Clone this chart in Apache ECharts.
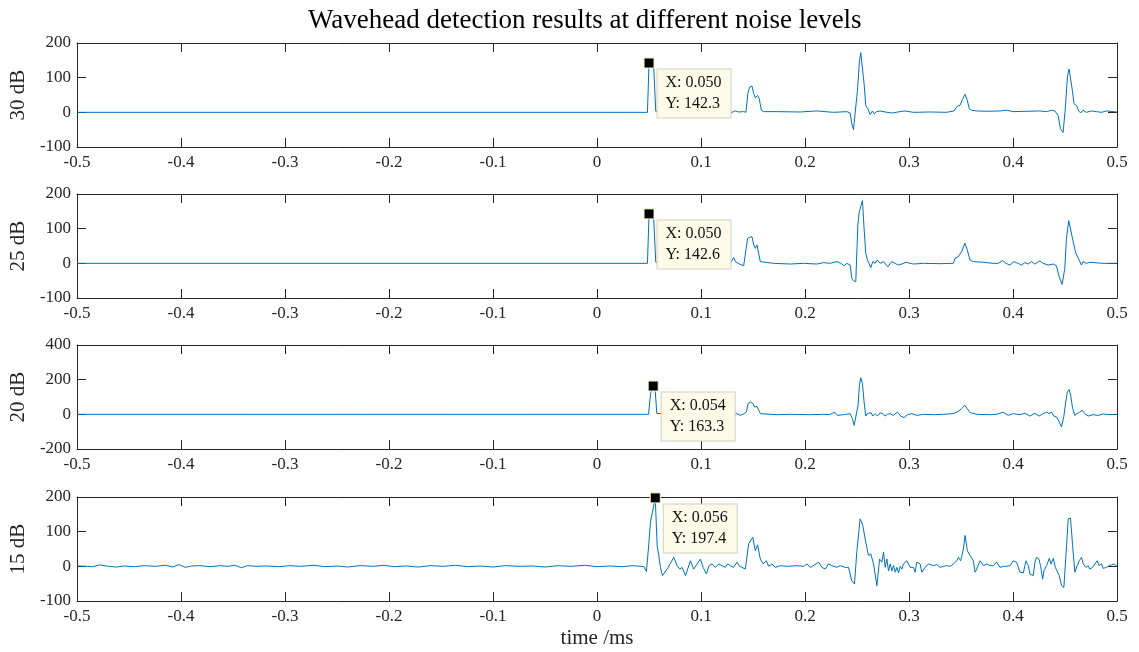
<!DOCTYPE html>
<html>
<head>
<meta charset="utf-8">
<script src="https://cdn.jsdelivr.net/npm/echarts@6/dist/echarts.min.js"></script>
<style>
html,body{margin:0;padding:0;background:#fff;}
#chart{width:1139px;height:652px;}
</style>
</head>
<body>
<div id="chart"></div>
<script>
// ---- data ----
var titleText = 'Wavehead detection results at different noise levels';
var xAxisName = 'time /ms';
var panelNames = ['30 dB', '25 dB', '20 dB', '15 dB'];
var yMins = [-100, -100, -200, -100];
var yMaxs = [200, 200, 400, 200];
var yIntervals = [100, 100, 200, 100];
var tipX = [0.050, 0.050, 0.054, 0.056];
var tipY = [142.3, 142.6, 163.3, 197.4];

var s30 = [
[-0.5,0],[0.0485,0],[0.0500,142.3],[0.0520,144],[0.0545,130],[0.0565,3],[0.058,0],
[0.1298,0],[0.1330,4],[0.1362,1],[0.1410,2],[0.1432,0],[0.1450,54],[0.1467,73],[0.1490,76],[0.1506,54],[0.1522,42],[0.1544,49],[0.1560,39],[0.1580,6],[0.1602,2],[0.1730,2],[0.1954,1],[0.2114,4],[0.2274,0],[0.2402,2],[0.2434,-2],[0.2450,-33],[0.2466,-50],[0.2485,-52],[0.2504,63],[0.2524,150],[0.2536,172],[0.2552,172],[0.2568,83],[0.2584,20],[0.2603,11],[0.2626,-6],[0.2648,4],[0.2664,-4],[0.2690,2],[0.2722,4],[0.2770,1],[0.2834,-2],[0.2914,2],[0.2962,4],[0.3042,0],[0.3202,1],[0.3362,0],[0.3432,4],[0.3464,17],[0.3490,20],[0.3512,36],[0.3538,52],[0.3560,35],[0.3579,11],[0.3602,6],[0.3650,4],[0.3746,3],[0.3874,4],[0.3938,6],[0.4002,2],[0.4130,3],[0.4258,4],[0.4322,2],[0.4370,6],[0.4402,4],[0.4434,-9],[0.4456,-47],[0.4482,-58],[0.4504,15],[0.4523,102],[0.4539,125],[0.4555,125],[0.4571,63],[0.4587,25],[0.4610,20],[0.4632,4],[0.4651,-2],[0.4674,6],[0.4706,0],[0.4754,4],[0.4802,2],[0.4850,0],[0.4898,4],[0.4962,2],[0.5,1]
];

var s25 = [
[-0.5,0],[0.0485,0],[0.0500,142.6],[0.0520,143],[0.0545,128],[0.0565,3],[0.058,0],
[0.1282,0],[0.1298,5],[0.1314,17],[0.1330,5],[0.1346,10],[0.1369,-2],[0.1388,2],[0.1410,-7],[0.1426,-5],[0.1448,72],[0.1468,75],[0.1490,77],[0.1506,55],[0.1522,43],[0.1538,53],[0.1554,51],[0.1570,5],[0.1586,2],[0.1698,0],[0.1858,-2],[0.1986,0],[0.2114,-2],[0.2178,2],[0.2242,0],[0.2306,5],[0.2344,0],[0.2376,-7],[0.2402,0],[0.2434,-5],[0.2450,-44],[0.2466,-50],[0.2488,-53],[0.2508,111],[0.2520,145],[0.2536,164],[0.2552,181],[0.2568,101],[0.2584,29],[0.2600,10],[0.2616,0],[0.2632,-13],[0.2652,5],[0.2674,0],[0.2696,10],[0.2722,0],[0.2754,5],[0.2796,-10],[0.2834,5],[0.2866,0],[0.2898,-5],[0.2930,-2],[0.2972,3],[0.2984,7],[0.3010,0],[0.3042,-2],[0.3138,0],[0.3298,-1],[0.3426,0],[0.3442,14],[0.3474,19],[0.3506,34],[0.3538,58],[0.3560,39],[0.3586,10],[0.3618,5],[0.3714,3],[0.3810,0],[0.3858,0],[0.3900,8],[0.3932,0],[0.3970,-5],[0.4008,5],[0.4050,0],[0.4082,-5],[0.4114,2],[0.4146,-2],[0.4178,5],[0.4210,-2],[0.4258,7],[0.4290,0],[0.4338,-5],[0.4386,-2],[0.4418,-7],[0.4444,-39],[0.4472,-61],[0.4498,-15],[0.4514,72],[0.4536,123],[0.4552,121],[0.4578,63],[0.4604,29],[0.4636,10],[0.4658,-5],[0.4674,5],[0.4706,0],[0.4738,3],[0.4866,0],[0.4994,0],[0.5,0]
];

var s20 = [
[-0.5,0],[0.0495,0],[0.0515,120],[0.0540,163.3],[0.0560,130],[0.0575,5],[0.059,0],
[0.1314,-2],[0.1346,4],[0.1378,-6],[0.1410,2],[0.1436,13],[0.1452,62],[0.1474,71],[0.1500,62],[0.1516,42],[0.1538,46],[0.1557,42],[0.1570,4],[0.1586,-2],[0.1730,-2],[0.1858,0],[0.2050,-2],[0.2178,0],[0.2236,-2],[0.2268,8],[0.2290,10],[0.2312,-6],[0.2370,-2],[0.2434,4],[0.2456,-25],[0.2472,-64],[0.2491,-73],[0.2510,52],[0.2523,168],[0.2536,212],[0.2552,178],[0.2568,71],[0.2584,-10],[0.2600,4],[0.2619,-6],[0.2635,10],[0.2651,-10],[0.2674,4],[0.2696,-10],[0.2722,8],[0.2748,4],[0.2770,-10],[0.2792,0],[0.2818,4],[0.2850,-6],[0.2888,13],[0.2920,-10],[0.2952,-19],[0.2984,-2],[0.3026,4],[0.3074,-6],[0.3138,0],[0.3234,-2],[0.3330,0],[0.3426,4],[0.3474,17],[0.3506,33],[0.3538,52],[0.3560,33],[0.3586,10],[0.3650,0],[0.3778,-2],[0.3842,0],[0.3906,12],[0.3954,-6],[0.4002,4],[0.4066,-2],[0.4114,6],[0.4162,-10],[0.4210,6],[0.4251,-10],[0.4290,4],[0.4322,13],[0.4347,4],[0.4370,13],[0.4392,-10],[0.4418,-15],[0.4444,-41],[0.4466,-73],[0.4488,-15],[0.4507,71],[0.4523,129],[0.4539,143],[0.4555,110],[0.4571,42],[0.4594,-6],[0.4616,4],[0.4642,13],[0.4668,23],[0.4690,4],[0.4722,-10],[0.4770,-2],[0.4818,-6],[0.4866,2],[0.4930,-2],[0.4994,0],[0.5,0]
];

var s15 = [
[-0.5,1],[-0.49,0],[-0.485,-1],[-0.478,4],[-0.47,0],[-0.462,-2],[-0.455,1],[-0.445,-1],[-0.435,2],[-0.425,0],[-0.415,3],[-0.408,-2],[-0.402,5],[-0.396,-3],[-0.39,1],[-0.382,2],[-0.372,-1],[-0.362,2],[-0.355,0],[-0.348,3],[-0.342,-4],[-0.336,2],[-0.328,0],[-0.318,1],[-0.305,-1],[-0.295,2],[-0.285,0],[-0.272,3],[-0.262,-1],[-0.25,1],[-0.24,-2],[-0.228,2],[-0.215,0],[-0.205,3],[-0.195,-1],[-0.183,1],[-0.172,-2],[-0.16,2],[-0.148,0],[-0.136,3],[-0.124,-1],[-0.112,1],[-0.1,-2],[-0.088,2],[-0.075,0],[-0.062,1],[-0.05,-2],[-0.038,2],[-0.025,0],[-0.012,3],[0,-1],[0.012,1],[0.024,-1],[0.035,2],[0.045,-1],
[0.0475,-15],[0.0498,65],[0.0514,128],[0.0530,123],[0.0546,176],[0.0560,197.4],[0.0578,60],[0.0594,31],[0.0610,-3],[0.0629,-27],[0.0645,-25],[0.0680,-5],[0.0738,26],[0.0770,2],[0.0796,-8],[0.0818,-3],[0.0850,-27],[0.0898,16],[0.0930,-8],[0.0962,7],[0.0994,21],[0.1020,-3],[0.1052,-22],[0.1077,2],[0.1106,7],[0.1138,-3],[0.1170,7],[0.1202,2],[0.1234,-3],[0.1256,7],[0.1282,2],[0.1314,-3],[0.1346,12],[0.1371,0],[0.1394,-3],[0.1426,-8],[0.1458,65],[0.1474,60],[0.1497,84],[0.1522,45],[0.1544,62],[0.1570,21],[0.1596,7],[0.1628,16],[0.1650,0],[0.1682,7],[0.1714,-3],[0.1762,2],[0.1826,0],[0.1922,2],[0.1986,0],[0.2018,7],[0.2050,-3],[0.2082,2],[0.2130,12],[0.2162,-3],[0.2194,-8],[0.2226,7],[0.2258,2],[0.2306,-3],[0.2338,2],[0.2386,-3],[0.2418,-3],[0.2450,-42],[0.2476,-51],[0.2498,42],[0.2530,137],[0.2556,118],[0.2578,79],[0.2610,31],[0.2632,36],[0.2659,7],[0.2691,-56],[0.2717,21],[0.2739,12],[0.2755,41],[0.2771,-3],[0.2787,21],[0.2803,-13],[0.2819,7],[0.2835,-13],[0.2851,2],[0.2867,-17],[0.2883,-3],[0.2899,-19],[0.2915,0],[0.2931,-8],[0.2947,7],[0.2963,2],[0.2979,16],[0.2995,21],[0.3011,-3],[0.3027,-8],[0.3043,-3],[0.3059,-17],[0.3075,12],[0.3107,7],[0.3123,-17],[0.3155,-3],[0.3187,7],[0.3203,12],[0.3235,2],[0.3267,5],[0.3299,-3],[0.3331,0],[0.3363,2],[0.3395,0],[0.3427,7],[0.3459,16],[0.3475,26],[0.3497,16],[0.3523,50],[0.3539,89],[0.3561,45],[0.3587,31],[0.3619,16],[0.3635,-17],[0.3651,-8],[0.3683,16],[0.3715,2],[0.3747,7],[0.3779,2],[0.3811,2],[0.3843,12],[0.3875,-3],[0.3907,0],[0.3939,0],[0.3971,2],[0.4003,16],[0.4035,12],[0.4067,-17],[0.4083,-13],[0.4099,-19],[0.4125,16],[0.4147,2],[0.4163,-22],[0.4195,-27],[0.4211,12],[0.4227,26],[0.4249,21],[0.4265,2],[0.4285,-37],[0.4297,-13],[0.4323,2],[0.4349,23],[0.4365,7],[0.4387,23],[0.4407,-3],[0.4426,2],[0.4445,-27],[0.4467,-56],[0.4489,-61],[0.4515,60],[0.4531,137],[0.4553,139],[0.4573,60],[0.4595,-17],[0.4617,2],[0.4637,16],[0.4659,26],[0.4675,7],[0.4701,-3],[0.4723,2],[0.4739,-8],[0.4765,-3],[0.4787,7],[0.4809,16],[0.4829,2],[0.4851,7],[0.4867,-6],[0.4899,-3],[0.4925,2],[0.4947,4],[0.4970,7],[0.5,0]
];

var seriesData = [s30, s25, s20, s15];

// ---- layout / style ----
var FONT = 'Liberation Serif, Times New Roman, serif';
var AX = '#262626';
var LINE = '#0072BD';
var gridTops = [43, 194, 345, 497];
var gridH = 104;

var grids = [], xAxes = [], yAxes = [], series = [];
for (var i = 0; i < 4; i++) {
  grids.push({left: 76, right: 22, top: gridTops[i], height: gridH});
  var common = {
    gridIndex: i, type: 'value', min: -0.5, max: 0.5, interval: 0.1,
    axisLine: {show: true, onZero: false, lineStyle: {color: AX, width: 1}},
    axisTick: {show: true, inside: true, length: 9, lineStyle: {color: AX, width: 1}},
    splitLine: {show: false}
  };
  xAxes.push(Object.assign({}, common, {
    position: 'bottom',
    name: i === 3 ? xAxisName : '',
    nameLocation: 'middle', nameGap: 27,
    nameTextStyle: {fontFamily: FONT, fontSize: 21, color: AX},
    axisLabel: {show: true, fontFamily: FONT, fontSize: 17, color: AX, margin: 7,
      formatter: function (v) { return String(Math.round(v * 10) / 10); }}
  }));
  xAxes.push(Object.assign({}, common, {position: 'top', axisLabel: {show: false}}));
  var ycommon = {
    gridIndex: i, type: 'value', min: yMins[i], max: yMaxs[i], interval: yIntervals[i],
    axisLine: {show: true, onZero: false, lineStyle: {color: AX, width: 1}},
    axisTick: {show: true, inside: true, length: 9, lineStyle: {color: AX, width: 1}},
    splitLine: {show: false}
  };
  yAxes.push(Object.assign({}, ycommon, {
    position: 'left',
    name: panelNames[i], nameLocation: 'middle', nameGap: 38, nameRotate: 90,
    nameTextStyle: {fontFamily: FONT, fontSize: 21, color: AX},
    axisLabel: {show: true, fontFamily: FONT, fontSize: 17, color: AX, margin: 6}
  }));
  yAxes.push(Object.assign({}, ycommon, {position: 'right', axisLabel: {show: false}}));

  series.push({
    type: 'line',
    xAxisIndex: 2 * i, yAxisIndex: 2 * i,
    data: seriesData[i],
    showSymbol: false, symbol: 'none',
    lineStyle: {color: LINE, width: 1},
    clip: true,
    markPoint: {
      symbol: 'rect', symbolSize: 10,
      itemStyle: {color: '#000', borderColor: '#f3f3c4', borderWidth: 1},
      label: {
        show: true, position: [14, 12],
        formatter: 'X: ' + tipX[i].toFixed(3) + '\nY: ' + tipY[i].toFixed(1),
        fontFamily: FONT, fontSize: 16, color: '#111', lineHeight: 21,
        backgroundColor: '#fbfbe8', borderColor: '#cfcfbf', borderWidth: 1,
        padding: [3, 9, 3, 8]
      },
      data: [{coord: [tipX[i], tipY[i]]}]
    }
  });
}

var chart = echarts.init(document.getElementById('chart'), null, {renderer: 'canvas'});
chart.setOption({
  animation: false,
  backgroundColor: '#fff',
  title: {text: titleText, left: 303, top: 2,
    textStyle: {fontFamily: FONT, fontSize: 27, fontWeight: 'normal', color: '#000'}},
  grid: grids,
  xAxis: xAxes,
  yAxis: yAxes,
  series: series
});
</script>
</body>
</html>
